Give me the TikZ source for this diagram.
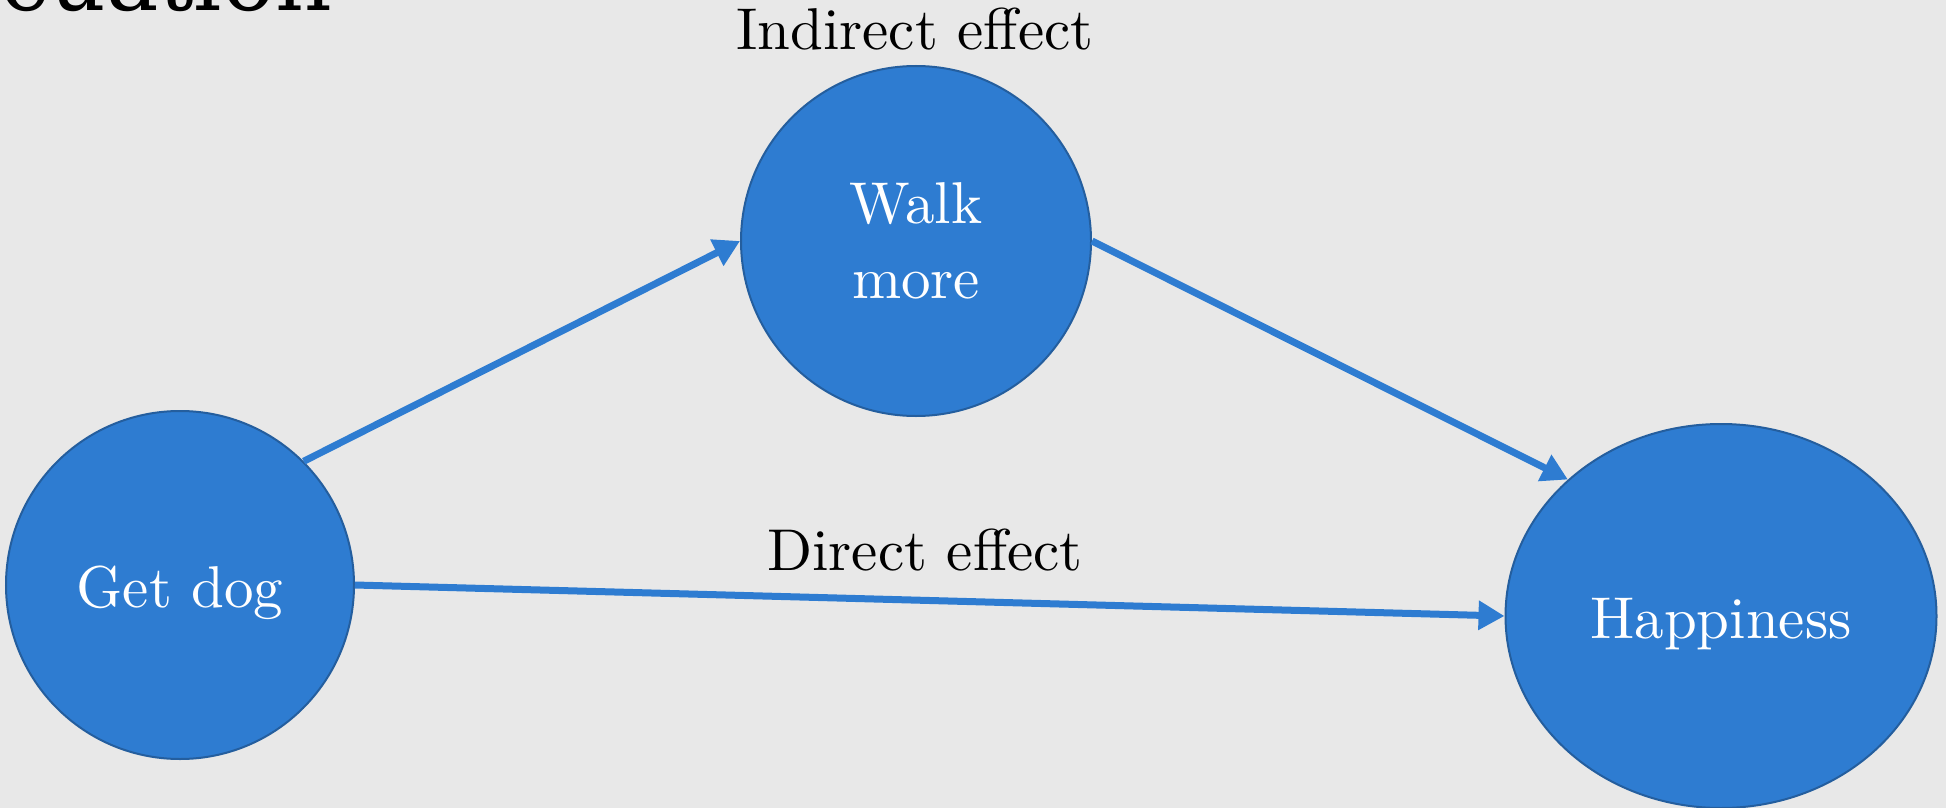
\documentclass[tikz,border=0pt]{standalone}
\usepackage{fontspec}
\newfontfamily\titlefont{DejaVu Serif}
\newfontfamily\labelfont{lmroman10-regular}[Extension=.otf]
\usetikzlibrary{arrows.meta,shapes.geometric}
\definecolor{bg}{HTML}{E8E8E8}
\definecolor{nodeblue}{HTML}{2E7CD1}
\definecolor{nodeedge}{HTML}{245E9E}
\definecolor{linkblue}{HTML}{2E7CD1}

\begin{document}
\begin{tikzpicture}[x=1pt,y=-1pt,
  bubble/.style={circle, fill=nodeblue, draw=nodeedge, line width=2pt,
    text=white, font=\labelfont\fontsize{59}{75}\selectfont, inner sep=0pt},
  link/.style={draw=linkblue, line width=7pt,
    -{Triangle[length=26pt,width=28pt]}},
  caption/.style={font=\labelfont\fontsize{59}{70}\selectfont, text=black,
    inner sep=0pt, anchor=base}]
\clip (0,0) rectangle (1946,808);
\fill[bg] (0,0) rectangle (1946,808);

% slide title, mostly above the visible area
\node[anchor=base west, inner sep=0pt,
  font=\titlefont\fontsize{88}{100}\selectfont] (title) at (0,10.5) {cuation};

% variables
\node[bubble, minimum size=348pt, text height=44pt, text depth=0pt]
  (dog) at (180,585) {Get dog};
\node[bubble, minimum size=350pt, align=center]
  (walk) at (916,241) {Walk\\more};
\node[bubble, ellipse, minimum width=431pt, minimum height=384pt,
  text height=44pt, text depth=0pt]
  (happy) at (1721,616) {Happiness};

% paths
\draw[link] (dog.north east) -- (walk.west);
\draw[link] (walk.east) -- (happy.north west);
\draw[link] (dog.east) -- (happy.west);

% path labels
\node[caption] (ind) at (915,50) {Indirect effect};
\node[caption] (dir) at (925,570) {Direct effect};
\end{tikzpicture}
\end{document}
